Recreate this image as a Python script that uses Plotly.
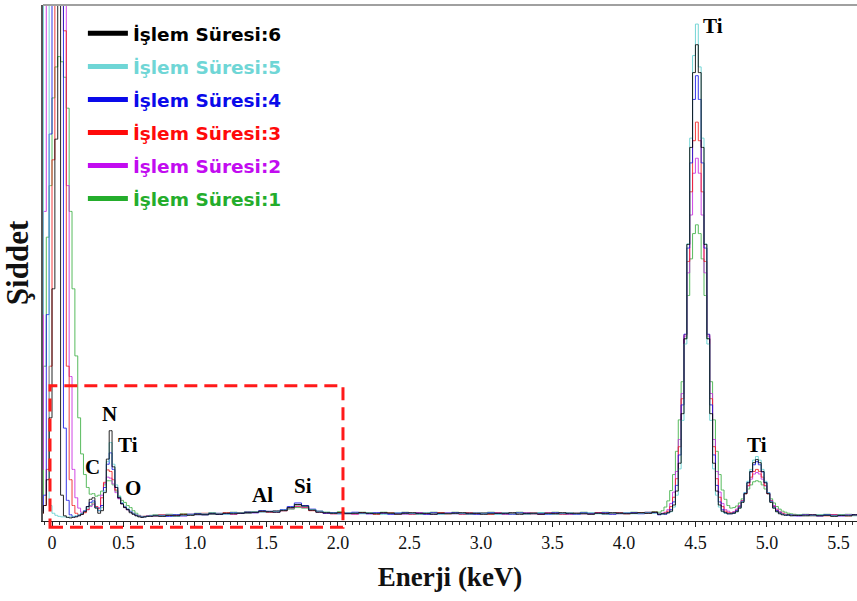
import plotly.graph_objects as go

# ---------------- channel energies (keV) ----------------
energy_low = [round(-0.07 + 0.02 * i, 2) for i in range(39)]    # -0.07 .. 0.69
energy_mid = [round(0.72 + 0.05 * i, 2) for i in range(71)]     # 0.72 .. 4.22
energy_ti = [round(4.25 + 0.02 * i, 2) for i in range(48)]      # 4.25 .. 5.19
energy_tail = [round(5.22 + 0.05 * i, 2) for i in range(10)]    # 5.22 .. 5.67

# ---------------- intensities (arbitrary units) ----------------
s6_low = [1.5, 3, 8, 20, 45, 74, 150, 5, 1.0, 0.7, 0.6, 0.7, 0.8, 1.0, 1.3, 1.8, 2.8, 4.2, 4.5, 2.5,
          1.5, 2.0, 5.5, 12.0, 17.5, 10.5, 6.5, 4.5, 3.3, 2.6, 2.2, 1.6, 1.3, 1.0, 0.8, 0.7, 0.8, 0.9, 0.9]
s6_mid = [1.0, 0.9, 1.1, 1.0, 1.2, 1.1, 1.3, 1.2, 1.4, 1.3, 1.5, 1.4, 1.5, 1.6, 1.7, 1.9, 1.8, 1.7,
          2.0, 2.6, 3.2, 2.9, 2.1, 1.7, 1.6, 1.5, 1.6, 1.4, 1.5, 1.6, 1.5, 1.4, 1.6, 1.5, 1.3, 1.5,
          1.6, 1.4, 1.5, 1.3, 1.5, 1.4, 1.5, 1.6, 1.4, 1.5, 1.3, 1.4, 1.5, 1.4, 1.6, 1.3, 1.5, 1.4,
          1.3, 1.5, 1.4, 1.6, 1.4, 1.5, 1.4, 1.3, 1.5, 1.4, 1.6, 1.5, 1.4, 1.5, 1.6, 1.5, 1.7]
s6_ti = [1.3, 1.4, 1.4, 1.6, 1.9, 3.1, 5.8, 11.2, 20.8, 35.3, 53.6, 72.4, 86.9, 92.3, 86.9, 72.4,
         53.6, 35.3, 20.8, 11.2, 5.8, 3.1, 1.9, 1.6, 1.4, 1.4, 1.5, 1.8, 2.5, 3.6, 5.3, 7.4, 9.6,
         11.3, 11.9, 11.3, 9.6, 7.4, 5.3, 3.6, 2.5, 1.8, 1.4, 1.2, 1.1, 1.2, 1.0, 1.1]
s6_tail = [1.1, 1.0, 1.2, 1.0, 1.1, 0.9, 1.1, 1.0, 1.2, 1.0]

s5_low = [40, 150, 150, 3.0, 1.5, 1.1, 0.9, 0.8, 0.8, 0.7, 0.8, 0.9, 1.0, 1.2, 1.5, 1.9, 2.5, 3.0, 3.6, 2.6,
          2.0, 2.6, 5.8, 11.5, 15.2, 11.0, 7.0, 4.8, 3.6, 2.9, 2.4, 1.9, 1.5, 1.2, 0.9, 0.8, 0.8, 0.9, 1.0]
s5_mid = [1.1, 1.0, 1.2, 0.9, 1.1, 1.2, 1.2, 1.4, 1.3, 1.5, 1.3, 1.5, 1.6, 1.5, 1.8, 1.7, 1.9, 1.8,
          2.1, 2.5, 3.1, 2.8, 2.2, 1.8, 1.7, 1.5, 1.4, 1.6, 1.5, 1.4, 1.6, 1.5, 1.3, 1.5, 1.6, 1.4,
          1.5, 1.3, 1.6, 1.4, 1.3, 1.5, 1.4, 1.5, 1.3, 1.6, 1.4, 1.5, 1.3, 1.6, 1.4, 1.5, 1.3, 1.5,
          1.6, 1.4, 1.3, 1.5, 1.6, 1.4, 1.5, 1.6, 1.4, 1.3, 1.5, 1.4, 1.6, 1.4, 1.5, 1.6, 1.5]
s5_ti = [1.4, 1.3, 1.5, 1.6, 1.8, 2.7, 5.0, 10.1, 19.5, 34.3, 53.7, 74.2, 90.2, 96.3, 88.0, 74.2,
         53.7, 34.3, 19.5, 10.1, 5.0, 2.7, 1.8, 1.5, 1.4, 1.5, 1.5, 1.8, 2.5, 3.7, 5.5, 7.7, 10.0,
         11.8, 12.5, 11.8, 10.0, 7.7, 5.5, 3.7, 2.5, 1.8, 1.5, 1.3, 1.2, 1.2, 1.1, 1.2]
s5_tail = [1.2, 1.1, 1.0, 1.2, 1.1, 1.0, 1.2, 1.1, 1.0, 1.1]

s4_low = [2, 5, 40, 75, 150, 150, 150, 150, 18, 4.0, 1.2, 0.8, 0.9, 1.1, 1.4, 2.0, 2.8, 3.6, 3.9, 2.6,
          2.0, 3.0, 6.5, 11.0, 13.2, 10.0, 6.5, 4.5, 3.4, 2.7, 2.2, 1.8, 1.4, 1.1, 0.9, 0.8, 0.8, 0.9, 1.0]
s4_mid = [1.0, 1.1, 0.9, 1.2, 1.0, 1.3, 1.4, 1.2, 1.5, 1.3, 1.4, 1.6, 1.5, 1.7, 1.6, 2.0, 1.8, 1.9,
          2.2, 2.8, 3.5, 3.0, 2.3, 1.9, 1.5, 1.6, 1.4, 1.5, 1.7, 1.5, 1.4, 1.6, 1.5, 1.3, 1.5, 1.6,
          1.4, 1.5, 1.3, 1.6, 1.4, 1.5, 1.6, 1.4, 1.5, 1.3, 1.5, 1.6, 1.4, 1.5, 1.3, 1.6, 1.4, 1.5,
          1.5, 1.3, 1.6, 1.4, 1.5, 1.3, 1.6, 1.4, 1.5, 1.6, 1.3, 1.5, 1.5, 1.6, 1.4, 1.6, 1.6]
s4_ti = [1.2, 1.4, 1.3, 1.6, 2.2, 3.7, 6.9, 12.8, 22.5, 36.2, 52.9, 69.4, 81.7, 86.3, 81.7, 69.4,
         52.9, 36.2, 22.5, 12.8, 6.9, 3.7, 2.2, 1.6, 1.4, 1.4, 1.6, 2.0, 2.7, 3.8, 5.5, 7.5, 9.5,
         10.9, 11.5, 10.9, 9.5, 7.5, 5.5, 3.8, 2.7, 2.0, 1.6, 1.3, 1.2, 1.1, 1.2, 1.0]
s4_tail = [1.0, 1.2, 1.1, 1.0, 1.2, 1.1, 1.0, 1.1, 1.2, 1.0]

s3_low = [1.5, 3, 10, 30, 70, 110, 150, 150, 95, 30, 8, 3, 1.5, 1.2, 1.3, 1.6, 2.2, 3.0, 3.5, 2.8,
          2.4, 4.5, 7.5, 9.9, 9.6, 8.0, 6.0, 4.5, 3.4, 2.7, 2.2, 1.8, 1.4, 1.1, 0.9, 0.8, 0.9, 0.9, 1.0]
s3_mid = [1.0, 1.2, 1.1, 1.0, 1.3, 1.2, 1.3, 1.5, 1.3, 1.4, 1.6, 1.4, 1.6, 1.5, 1.7, 1.8, 1.7, 1.9,
          2.0, 2.5, 2.9, 2.7, 2.0, 1.8, 1.5, 1.4, 1.6, 1.5, 1.4, 1.6, 1.5, 1.3, 1.5, 1.6, 1.4, 1.5,
          1.3, 1.5, 1.4, 1.5, 1.6, 1.4, 1.5, 1.3, 1.6, 1.4, 1.5, 1.3, 1.5, 1.6, 1.4, 1.5, 1.3, 1.6,
          1.4, 1.5, 1.5, 1.3, 1.6, 1.4, 1.5, 1.4, 1.6, 1.5, 1.4, 1.6, 1.4, 1.5, 1.6, 1.5, 1.7]
s3_ti = [1.3, 1.4, 1.6, 1.9, 2.8, 4.6, 8.2, 14.4, 23.7, 36.1, 50.3, 63.8, 73.7, 77.3, 73.7, 63.8,
         50.3, 36.1, 23.7, 14.4, 8.2, 4.6, 2.8, 1.9, 1.6, 1.6, 1.7, 2.1, 2.8, 3.9, 5.3, 6.9, 8.5,
         9.6, 10.0, 9.6, 8.5, 6.9, 5.3, 3.9, 2.8, 2.1, 1.7, 1.5, 1.3, 1.2, 1.1, 1.2]
s3_tail = [1.1, 1.2, 1.0, 1.1, 1.0, 1.2, 1.1, 1.0, 1.1, 1.2]

s2_low = [10, 60, 150, 150, 150, 150, 150, 150, 120, 65, 28, 10, 4.5, 2.5, 1.7, 1.8, 2.2, 2.8, 3.2, 2.8,
          2.6, 5.0, 7.3, 8.5, 8.3, 7.2, 5.5, 4.3, 3.4, 2.8, 2.3, 1.9, 1.5, 1.2, 1.0, 0.9, 0.9, 1.0, 1.0]
s2_mid = [1.1, 1.0, 1.2, 1.1, 1.0, 1.3, 1.2, 1.4, 1.3, 1.5, 1.4, 1.3, 1.5, 1.7, 1.6, 1.8, 1.9, 1.7,
          2.0, 2.4, 2.8, 2.6, 2.1, 1.7, 1.6, 1.4, 1.5, 1.6, 1.3, 1.5, 1.4, 1.6, 1.5, 1.4, 1.6, 1.3,
          1.5, 1.6, 1.4, 1.3, 1.5, 1.6, 1.4, 1.5, 1.3, 1.6, 1.4, 1.5, 1.6, 1.3, 1.5, 1.4, 1.6, 1.4,
          1.3, 1.6, 1.4, 1.5, 1.3, 1.5, 1.4, 1.5, 1.6, 1.4, 1.5, 1.4, 1.6, 1.5, 1.5, 1.7, 1.6]
s2_ti = [1.4, 1.5, 1.7, 2.2, 3.4, 5.6, 9.6, 15.8, 24.7, 35.8, 48.1, 59.3, 67.4, 70.3, 67.4, 59.3,
         48.1, 35.8, 24.7, 15.8, 9.6, 5.6, 3.4, 2.2, 1.9, 1.6, 1.8, 2.3, 3.0, 4.0, 5.3, 6.8, 8.1,
         9.1, 9.4, 9.1, 8.1, 6.8, 5.3, 4.0, 3.0, 2.3, 1.8, 1.5, 1.3, 1.2, 1.1, 1.1]
s2_tail = [1.0, 1.1, 1.2, 1.0, 1.1, 1.2, 1.0, 1.2, 1.1, 1.0]

s1_low = [5, 30, 55, 65, 82, 88, 90, 89, 86, 80, 60, 45, 32, 20, 13, 9, 6.5, 5.2, 5.3, 4.8,
          5.0, 5.8, 7.0, 7.8, 7.8, 7.0, 5.8, 4.8, 4.0, 3.6, 3.0, 2.6, 2.0, 1.5, 1.1, 0.9, 0.9, 1.0, 1.1]
s1_mid = [1.2, 1.1, 1.3, 1.2, 1.4, 1.3, 1.5, 1.3, 1.6, 1.4, 1.5, 1.7, 1.6, 1.8, 1.7, 1.9, 1.8, 2.0,
          2.1, 2.3, 2.6, 2.5, 2.1, 1.9, 1.7, 1.6, 1.8, 1.6, 1.5, 1.7, 1.6, 1.5, 1.7, 1.6, 1.5, 1.7,
          1.5, 1.6, 1.4, 1.7, 1.6, 1.5, 1.7, 1.5, 1.6, 1.4, 1.6, 1.7, 1.5, 1.6, 1.5, 1.7, 1.5, 1.6,
          1.6, 1.5, 1.7, 1.5, 1.6, 1.5, 1.7, 1.5, 1.6, 1.7, 1.5, 1.6, 1.6, 1.7, 1.6, 1.7, 1.8]
s1_ti = [1.7, 2.0, 2.7, 3.9, 5.9, 9.0, 13.5, 19.6, 27.0, 35.4, 43.7, 50.8, 55.7, 57.4, 55.7, 50.8,
         43.7, 35.4, 27.0, 19.6, 13.5, 9.0, 6.0, 4.2, 3.0, 2.5, 2.6, 2.9, 3.5, 4.3, 5.3, 6.2, 7.0,
         7.6, 7.8, 7.6, 7.0, 6.2, 5.3, 4.3, 3.5, 2.8, 2.3, 1.9, 1.7, 1.5, 1.4, 1.3]
s1_tail = [1.2, 1.3, 1.1, 1.2, 1.3, 1.1, 1.2, 1.3, 1.2, 1.1]

series_names = ["İşlem Süresi:6", "İşlem Süresi:5", "İşlem Süresi:4",
                "İşlem Süresi:3", "İşlem Süresi:2", "İşlem Süresi:1"]
series_values = [
    s6_low + s6_mid + s6_ti + s6_tail,
    s5_low + s5_mid + s5_ti + s5_tail,
    s4_low + s4_mid + s4_ti + s4_tail,
    s3_low + s3_mid + s3_ti + s3_tail,
    s2_low + s2_mid + s2_ti + s2_tail,
    s1_low + s1_mid + s1_ti + s1_tail,
]
energy = energy_low + energy_mid + energy_ti + energy_tail

tick_values = [0, 0.5, 1.0, 1.5, 2.0, 2.5, 3.0, 3.5, 4.0, 4.5, 5.0, 5.5]
tick_labels = ["0", "0.5", "1.0", "1.5", "2.0", "2.5", "3.0", "3.5", "4.0", "4.5", "5.0", "5.5"]

peak_labels = ["Ti", "N", "Ti", "C", "O", "Al", "Si", "Ti"]
peak_label_energy = [4.62, 0.405, 0.53, 0.28, 0.566, 1.47, 1.755, 4.93]
peak_label_intensity = [96.0, 20.7, 14.7, 10.5, 6.4, 5.0, 6.8, 14.8]

# ---------------- styles ----------------
line_colors = ["#000000", "#5ccfcf", "#1414e6", "#f01c1c", "#c828e0", "#3cb043"]
legend_colors = ["#000000", "#6fd6d6", "#0a0aea", "#ff0a0a", "#c20cf0", "#24ad2c"]
serif = "Liberation Serif, Times New Roman, serif"

fig = go.Figure()

# data traces (drawn green first, black last)
for k in reversed(range(6)):
    fig.add_trace(go.Scatter(
        x=energy, y=series_values[k], mode="lines", line_shape="hvh",
        line=dict(color=line_colors[k], width=1.0), opacity=0.85,
        showlegend=False, hoverinfo="skip"))

# legend entries with thick lines and coloured text
for k in range(6):
    fig.add_trace(go.Scatter(
        x=[None], y=[None], mode="lines",
        line=dict(color=legend_colors[k], width=5),
        name='<b><span style="color:%s">%s</span></b>' % (legend_colors[k], series_names[k]),
        legendgroup="g%d" % k, showlegend=True))

annotations = []
for t, ex, iy in zip(peak_labels, peak_label_energy, peak_label_intensity):
    annotations.append(dict(x=ex, y=iy, xref="x", yref="y", text="<b>%s</b>" % t,
                            showarrow=False, xanchor="center", yanchor="middle",
                            font=dict(family=serif, size=21, color="#000000")))

fig.update_layout(
    width=857, height=601,
    margin=dict(l=43, r=0, t=5, b=80),
    paper_bgcolor="white", plot_bgcolor="white",
    annotations=annotations,
    showlegend=True,
    legend=dict(x=0.049, y=0.981, xanchor="left", yanchor="top",
                bgcolor="rgba(0,0,0,0)", borderwidth=0,
                font=dict(family="DejaVu Sans, sans-serif", size=18.5),
                itemwidth=40, tracegroupgap=6, traceorder="grouped"),
    shapes=[
        dict(type="rect", xref="x", yref="paper", x0=-0.014, x1=2.035, y0=-0.012, y1=0.262,
             line=dict(color="#ff1a1a", width=3, dash="13px,7px"), layer="above"),
        dict(type="line", xref="paper", yref="paper", x0=0, x1=1, y0=1, y1=1,
             line=dict(color="#a0a0a0", width=2)),
    ],
    xaxis=dict(range=[-0.063, 5.63], showgrid=False, zeroline=False,
               showline=True, linecolor="#222222", linewidth=1.2,
               ticks="outside", ticklen=5, tickcolor="#222222", tickwidth=1,
               tickvals=tick_values, ticktext=tick_labels,
               tickfont=dict(family=serif, size=18, color="#111111"),
               minor=dict(dtick=0.05, tick0=0, ticks="outside", ticklen=3,
                          tickcolor="#333333", tickwidth=1),
               title=dict(text="<b>Enerji (keV)</b>", standoff=15,
                          font=dict(family=serif, size=27, color="#111111"))),
    yaxis=dict(range=[0, 100], showgrid=False, zeroline=False,
               showline=True, linecolor="#555555", linewidth=1.5,
               showticklabels=False, ticks="",
               title=dict(text="<b>Şiddet</b>", standoff=12,
                          font=dict(family=serif, size=31, color="#111111"))),
)

fig.write_html("out.html")
